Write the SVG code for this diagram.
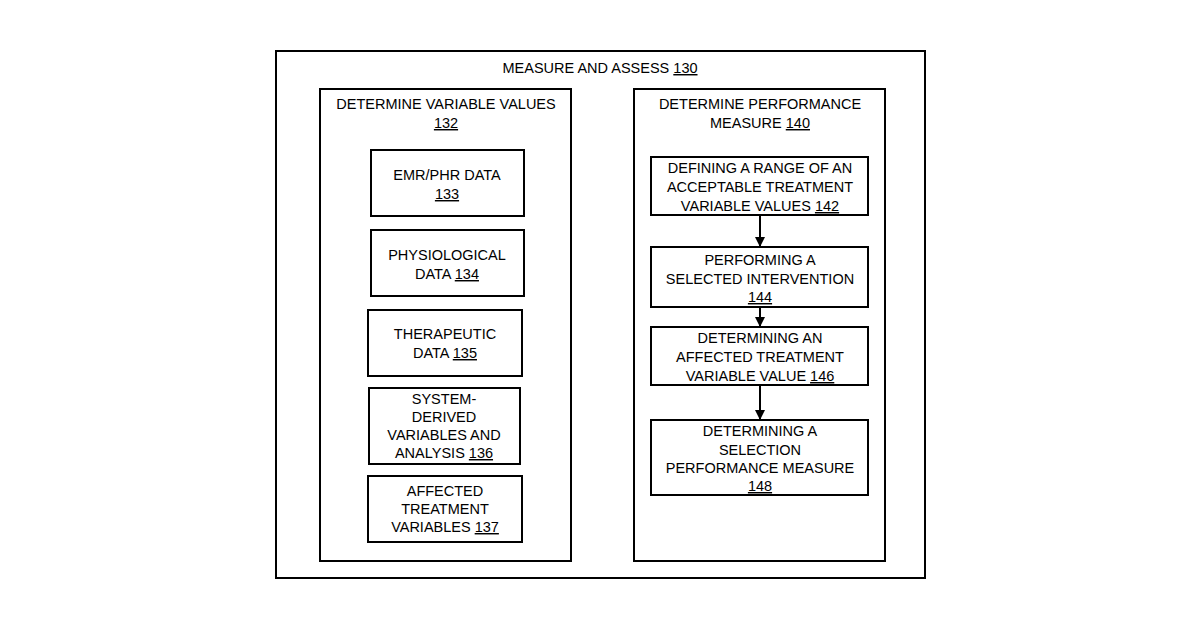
<svg xmlns="http://www.w3.org/2000/svg" width="1200" height="630" viewBox="0 0 1200 630">
<style>
rect{fill:none;stroke:#000;stroke-width:2}
text{font-family:"Liberation Sans",Arial,sans-serif;font-size:14.5px;fill:#000;text-anchor:middle}
.u{text-decoration:underline}
.c{stroke:#000;stroke-width:2;fill:none}
</style>
<defs><marker id="a" markerWidth="10" markerHeight="10" refX="9" refY="5" orient="auto" markerUnits="userSpaceOnUse"><path d="M0,0 L10,5 L0,10 Z" fill="#000"/></marker></defs>
<rect x="0" y="0" width="1200" height="630" style="fill:#fff;stroke:none"/>
<g id="n130"><rect x="276" y="51" width="649" height="527"/><text x="600" y="73">MEASURE AND ASSESS <tspan class="u">130</tspan></text></g>
<g id="n132"><rect x="320" y="89" width="251" height="472"/><text x="446" y="109">DETERMINE VARIABLE VALUES</text><text x="446" y="128" class="u">132</text></g>
<g id="n133"><rect x="371" y="150" width="153" height="66"/><text x="447" y="180">EMR/PHR DATA</text><text x="447" y="199" class="u">133</text></g>
<g id="n134"><rect x="371" y="230" width="153" height="66"/><text x="447" y="260">PHYSIOLOGICAL</text><text x="447" y="279">DATA <tspan class="u">134</tspan></text></g>
<g id="n135"><rect x="368" y="310" width="154" height="66"/><text x="445" y="339">THERAPEUTIC</text><text x="445" y="358">DATA <tspan class="u">135</tspan></text></g>
<g id="n136"><rect x="369" y="388" width="151" height="76"/><text x="444" y="404">SYSTEM-</text><text x="444" y="422">DERIVED</text><text x="444" y="440">VARIABLES AND</text><text x="444" y="458">ANALYSIS <tspan class="u">136</tspan></text></g>
<g id="n137"><rect x="368" y="476" width="154" height="66"/><text x="445" y="496">AFFECTED</text><text x="445" y="514">TREATMENT</text><text x="445" y="532">VARIABLES <tspan class="u">137</tspan></text></g>
<g id="n140"><rect x="634" y="89" width="251" height="472"/><text x="760" y="109">DETERMINE PERFORMANCE</text><text x="760" y="128">MEASURE <tspan class="u">140</tspan></text></g>
<g id="n142"><rect x="651" y="157" width="217" height="58"/><text x="760" y="173">DEFINING A RANGE OF AN</text><text x="760" y="192">ACCEPTABLE TREATMENT</text><text x="760" y="211">VARIABLE VALUES  <tspan class="u">142</tspan></text></g>
<g id="n144"><rect x="651" y="247" width="217" height="60"/><text x="760" y="265">PERFORMING A</text><text x="760" y="284">SELECTED INTERVENTION</text><text x="760" y="302" class="u">144</text></g>
<g id="n146"><rect x="651" y="327" width="217" height="58"/><text x="760" y="343">DETERMINING AN</text><text x="760" y="362">AFFECTED TREATMENT</text><text x="760" y="381">VARIABLE VALUE  <tspan class="u">146</tspan></text></g>
<g id="n148"><rect x="651" y="420" width="217" height="75"/><text x="760" y="436">DETERMINING A</text><text x="760" y="455">SELECTION</text><text x="760" y="473">PERFORMANCE MEASURE</text><text x="760" y="491" class="u">148</text></g>
<g id="connectors">
<line class="c" x1="760" y1="215" x2="760" y2="246" marker-end="url(#a)"/>
<line class="c" x1="760" y1="307" x2="760" y2="326" marker-end="url(#a)"/>
<line class="c" x1="760" y1="385" x2="760" y2="419" marker-end="url(#a)"/>
</g>
</svg>
